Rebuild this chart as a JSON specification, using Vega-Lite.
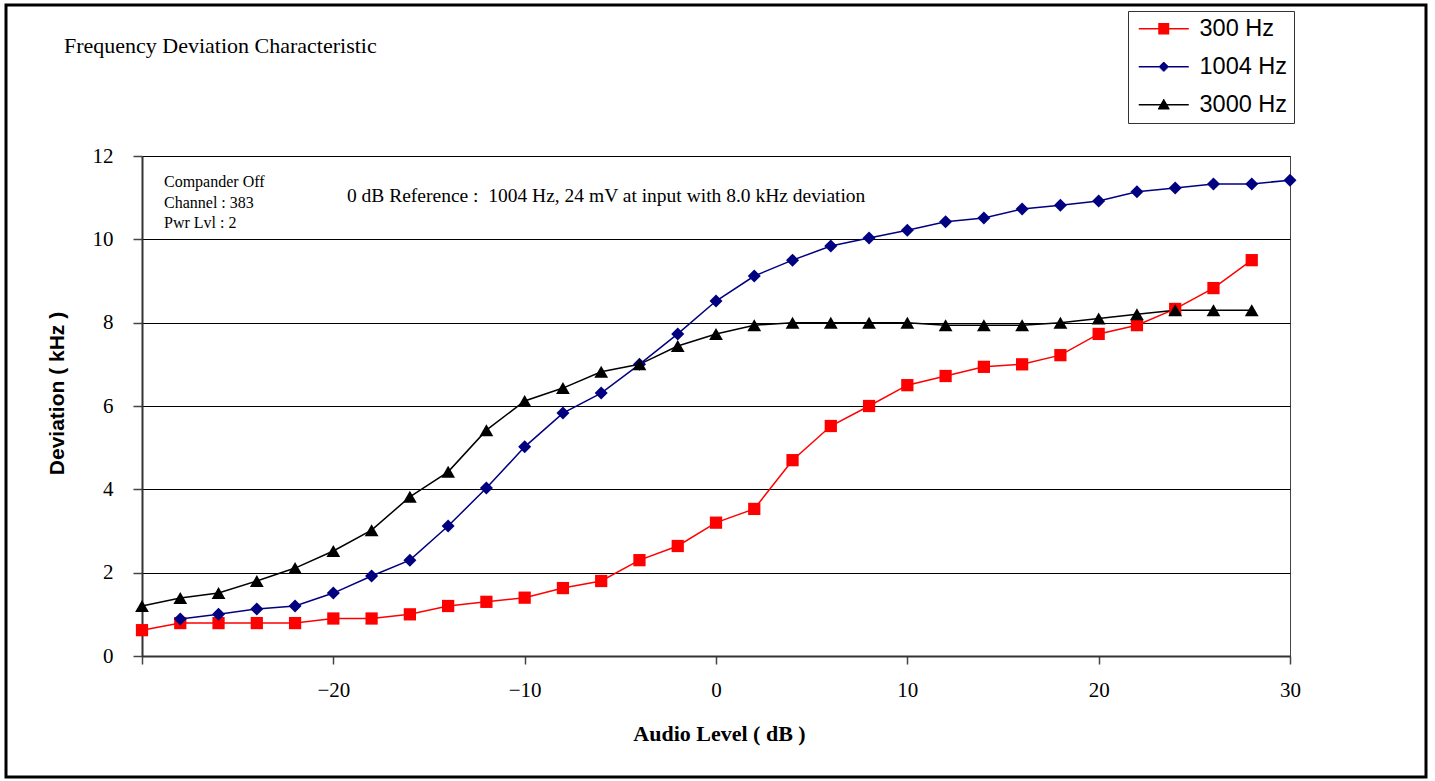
{
  "$schema": "https://vega.github.io/schema/vega-lite/v6.json",
  "width": 1148,
  "height": 500,
  "autosize": {"type": "none"},
  "padding": {"left": 142, "top": 156, "right": 145, "bottom": 125},
  "background": "white",
  "config": {
    "view": {"stroke": "#444", "strokeWidth": 1},
    "legend": {
      "orient": "none",
      "legendX": 986,
      "legendY": -145,
      "padding": 6,
      "fillColor": "white",
      "strokeColor": "#333",
      "cornerRadius": 0,
      "labelFont": "Liberation Sans",
      "labelFontSize": 23.5,
      "labelColor": "#000",
      "labelLimit": 300,
      "symbolSize": 400,
      "symbolOffset": 18,
      "labelOffset": 24,
      "rowPadding": 13,
      "symbolStrokeWidth": 1.5,
      "symbolOpacity": 1
    }
  },
  "data": {
    "values": [
      {"series": "300 Hz", "level": -30, "dev": 0.62},
      {"series": "300 Hz", "level": -28, "dev": 0.79},
      {"series": "300 Hz", "level": -26, "dev": 0.79},
      {"series": "300 Hz", "level": -24, "dev": 0.79},
      {"series": "300 Hz", "level": -22, "dev": 0.79},
      {"series": "300 Hz", "level": -20, "dev": 0.9},
      {"series": "300 Hz", "level": -18, "dev": 0.9},
      {"series": "300 Hz", "level": -16, "dev": 1.0},
      {"series": "300 Hz", "level": -14, "dev": 1.2},
      {"series": "300 Hz", "level": -12, "dev": 1.3},
      {"series": "300 Hz", "level": -10, "dev": 1.4},
      {"series": "300 Hz", "level": -8, "dev": 1.63},
      {"series": "300 Hz", "level": -6, "dev": 1.8},
      {"series": "300 Hz", "level": -4, "dev": 2.3},
      {"series": "300 Hz", "level": -2, "dev": 2.64},
      {"series": "300 Hz", "level": 0, "dev": 3.2},
      {"series": "300 Hz", "level": 2, "dev": 3.53},
      {"series": "300 Hz", "level": 4, "dev": 4.7},
      {"series": "300 Hz", "level": 6, "dev": 5.52},
      {"series": "300 Hz", "level": 8, "dev": 6.0},
      {"series": "300 Hz", "level": 10, "dev": 6.5},
      {"series": "300 Hz", "level": 12, "dev": 6.72},
      {"series": "300 Hz", "level": 14, "dev": 6.94},
      {"series": "300 Hz", "level": 16, "dev": 7.0},
      {"series": "300 Hz", "level": 18, "dev": 7.22},
      {"series": "300 Hz", "level": 20, "dev": 7.73},
      {"series": "300 Hz", "level": 22, "dev": 7.94},
      {"series": "300 Hz", "level": 24, "dev": 8.33},
      {"series": "300 Hz", "level": 26, "dev": 8.83},
      {"series": "300 Hz", "level": 28, "dev": 9.5},
      {"series": "1004 Hz", "level": -28, "dev": 0.89},
      {"series": "1004 Hz", "level": -26, "dev": 1.0},
      {"series": "1004 Hz", "level": -24, "dev": 1.13},
      {"series": "1004 Hz", "level": -22, "dev": 1.2},
      {"series": "1004 Hz", "level": -20, "dev": 1.51},
      {"series": "1004 Hz", "level": -18, "dev": 1.92},
      {"series": "1004 Hz", "level": -16, "dev": 2.3},
      {"series": "1004 Hz", "level": -14, "dev": 3.12},
      {"series": "1004 Hz", "level": -12, "dev": 4.03},
      {"series": "1004 Hz", "level": -10, "dev": 5.02},
      {"series": "1004 Hz", "level": -8, "dev": 5.83},
      {"series": "1004 Hz", "level": -6, "dev": 6.31},
      {"series": "1004 Hz", "level": -4, "dev": 7.0},
      {"series": "1004 Hz", "level": -2, "dev": 7.73},
      {"series": "1004 Hz", "level": 0, "dev": 8.52},
      {"series": "1004 Hz", "level": 2, "dev": 9.12},
      {"series": "1004 Hz", "level": 4, "dev": 9.5},
      {"series": "1004 Hz", "level": 6, "dev": 9.84},
      {"series": "1004 Hz", "level": 8, "dev": 10.03},
      {"series": "1004 Hz", "level": 10, "dev": 10.22},
      {"series": "1004 Hz", "level": 12, "dev": 10.42},
      {"series": "1004 Hz", "level": 14, "dev": 10.51},
      {"series": "1004 Hz", "level": 16, "dev": 10.73},
      {"series": "1004 Hz", "level": 18, "dev": 10.82},
      {"series": "1004 Hz", "level": 20, "dev": 10.92},
      {"series": "1004 Hz", "level": 22, "dev": 11.14},
      {"series": "1004 Hz", "level": 24, "dev": 11.23},
      {"series": "1004 Hz", "level": 26, "dev": 11.33},
      {"series": "1004 Hz", "level": 28, "dev": 11.33},
      {"series": "1004 Hz", "level": 30, "dev": 11.42},
      {"series": "3000 Hz", "level": -30, "dev": 1.2},
      {"series": "3000 Hz", "level": -28, "dev": 1.39},
      {"series": "3000 Hz", "level": -26, "dev": 1.51},
      {"series": "3000 Hz", "level": -24, "dev": 1.8},
      {"series": "3000 Hz", "level": -22, "dev": 2.11},
      {"series": "3000 Hz", "level": -20, "dev": 2.52},
      {"series": "3000 Hz", "level": -18, "dev": 3.02},
      {"series": "3000 Hz", "level": -16, "dev": 3.82},
      {"series": "3000 Hz", "level": -14, "dev": 4.42},
      {"series": "3000 Hz", "level": -12, "dev": 5.42},
      {"series": "3000 Hz", "level": -10, "dev": 6.12},
      {"series": "3000 Hz", "level": -8, "dev": 6.43},
      {"series": "3000 Hz", "level": -6, "dev": 6.82},
      {"series": "3000 Hz", "level": -4, "dev": 7.0},
      {"series": "3000 Hz", "level": -2, "dev": 7.44},
      {"series": "3000 Hz", "level": 0, "dev": 7.73},
      {"series": "3000 Hz", "level": 2, "dev": 7.94},
      {"series": "3000 Hz", "level": 4, "dev": 8.0},
      {"series": "3000 Hz", "level": 6, "dev": 8.0},
      {"series": "3000 Hz", "level": 8, "dev": 8.0},
      {"series": "3000 Hz", "level": 10, "dev": 8.0},
      {"series": "3000 Hz", "level": 12, "dev": 7.94},
      {"series": "3000 Hz", "level": 14, "dev": 7.94},
      {"series": "3000 Hz", "level": 16, "dev": 7.94},
      {"series": "3000 Hz", "level": 18, "dev": 8.0},
      {"series": "3000 Hz", "level": 20, "dev": 8.1},
      {"series": "3000 Hz", "level": 22, "dev": 8.2},
      {"series": "3000 Hz", "level": 24, "dev": 8.3},
      {"series": "3000 Hz", "level": 26, "dev": 8.3},
      {"series": "3000 Hz", "level": 28, "dev": 8.3}
    ]
  },
  "layer": [
    {
      "mark": {"type": "line", "strokeWidth": 1.5},
      "encoding": {
        "x": {
          "field": "level",
          "type": "quantitative",
          "scale": {"domain": [-30, 30], "nice": false, "zero": false},
          "axis": {
            "title": "Audio Level ( dB )",
            "values": [-30, -20, -10, 0, 10, 20, 30],
            "labelExpr": "datum.value === -30 ? '' : datum.label",
            "grid": false,
            "ticks": true,
            "tickSize": 8,
            "tickColor": "#444",
            "tickWidth": 1.5,
            "domainColor": "#333",
            "domainWidth": 2,
            "labelFont": "Liberation Serif",
            "labelFontSize": 21,
            "labelColor": "#000",
            "labelPadding": 15,
            "labelFlush": false,
            "labelOverlap": false,
            "titleFont": "Liberation Serif",
            "titleFontSize": 22,
            "titleFontWeight": "bold",
            "titleColor": "#000",
            "titleX": 577,
            "titleY": 77,
            "titleAlign": "center",
            "titleBaseline": "middle"
          }
        },
        "y": {
          "field": "dev",
          "type": "quantitative",
          "scale": {"domain": [0, 12], "nice": false},
          "axis": {
            "title": "Deviation ( kHz )",
            "values": [0, 2, 4, 6, 8, 10, 12],
            "grid": true,
            "gridColor": "#000",
            "gridWidth": 1,
            "tickSize": 9,
            "tickColor": "#444",
            "tickWidth": 1.5,
            "domainColor": "#333",
            "domainWidth": 2,
            "labelFont": "Liberation Serif",
            "labelFontSize": 21,
            "labelColor": "#000",
            "labelPadding": 20,
            "titleFont": "Liberation Sans",
            "titleFontSize": 21,
            "titleFontWeight": "bold",
            "titleColor": "#000",
            "titleX": -85,
            "titleY": 237,
            "titleAngle": -90,
            "titleAlign": "center",
            "titleBaseline": "middle"
          }
        },
        "color": {
          "field": "series",
          "type": "nominal",
          "scale": {"domain": ["300 Hz", "1004 Hz", "3000 Hz"], "range": ["#ff0000", "#000080", "#000000"]},
          "legend": {"title": null, "labelExpr": "datum.label + '\u00a0\u00a0\u00a0'"}
        }
      }
    },
    {
      "mark": {"type": "point", "filled": false, "opacity": 0, "strokeWidth": 1.5},
      "encoding": {
        "x": {"field": "level", "type": "quantitative"},
        "y": {"field": "dev", "type": "quantitative"},
        "color": {"field": "series", "type": "nominal", "legend": {"title": null, "labelExpr": "datum.label + '\u00a0\u00a0\u00a0'"}},
        "shape": {
          "field": "series",
          "type": "nominal",
          "scale": {
            "domain": ["300 Hz", "1004 Hz", "3000 Hz"],
            "range": [
              "M-2.5,0H2.5M-0.55,-0.5H0.55M-0.55,-0.4H0.55M-0.55,-0.3H0.55M-0.55,-0.2H0.55M-0.55,-0.1H0.55M-0.55,0.1H0.55M-0.55,0.2H0.55M-0.55,0.3H0.55M-0.55,0.4H0.55M-0.55,0.5H0.55",
              "M-2.5,0H2.5M-0.1,-0.4H0.1M-0.2,-0.3H0.2M-0.3,-0.2H0.3M-0.4,-0.1H0.4M-0.4,0.1H0.4M-0.3,0.2H0.3M-0.2,0.3H0.2M-0.1,0.4H0.1",
              "M-2.5,0H2.5M-0.06,-0.5H0.06M-0.11,-0.4H0.11M-0.17,-0.3H0.17M-0.23,-0.2H0.23M-0.29,-0.1H0.29M-0.4,0.1H0.4M-0.46,0.2H0.46M-0.51,0.3H0.51M-0.57,0.4H0.57"
            ]
          },
          "legend": {"title": null, "labelExpr": "datum.label + '\u00a0\u00a0\u00a0'"}
        }
      }
    },
    {
      "transform": [{"filter": "datum.series === '300 Hz'"}],
      "mark": {"type": "point", "shape": "square", "filled": true, "opacity": 1, "size": 150, "color": "#ff0000"},
      "encoding": {
        "x": {"field": "level", "type": "quantitative"},
        "y": {"field": "dev", "type": "quantitative"}
      }
    },
    {
      "transform": [{"filter": "datum.series === '1004 Hz'"}],
      "mark": {"type": "point", "shape": "diamond", "filled": true, "opacity": 1, "size": 170, "color": "#000080"},
      "encoding": {
        "x": {"field": "level", "type": "quantitative"},
        "y": {"field": "dev", "type": "quantitative"}
      }
    },
    {
      "transform": [{"filter": "datum.series === '3000 Hz'"}],
      "mark": {"type": "point", "shape": "triangle-up", "filled": true, "opacity": 1, "size": 190, "color": "#000000"},
      "encoding": {
        "x": {"field": "level", "type": "quantitative"},
        "y": {"field": "dev", "type": "quantitative"}
      }
    },
    {
      "data": {"values": [{}]},
      "mark": {"type": "text", "text": "Frequency Deviation Characteristic", "font": "Liberation Serif", "fontSize": 22, "align": "left", "baseline": "alphabetic", "color": "#000"},
      "encoding": {"x": {"datum": -34.08}, "y": {"datum": 14.472}}
    },
    {
      "data": {"values": [{}]},
      "mark": {"type": "text", "text": "0 dB Reference :\u00a0 1004 Hz, 24 mV at input with 8.0 kHz deviation", "font": "Liberation Serif", "fontSize": 19.5, "align": "left", "baseline": "alphabetic", "color": "#000"},
      "encoding": {"x": {"datum": -19.29}, "y": {"datum": 10.896}}
    },
    {
      "data": {"values": [{}]},
      "mark": {"type": "text", "text": ["Compander Off", "Channel : 383", "Pwr Lvl : 2"], "lineHeight": 20.5, "font": "Liberation Serif", "fontSize": 16, "align": "left", "baseline": "alphabetic", "color": "#000"},
      "encoding": {"x": {"datum": -28.85}, "y": {"datum": 11.256}}
    },
    {
      "data": {"values": [{}]},
      "mark": {"type": "rect", "fill": null, "stroke": "#000", "strokeWidth": 3},
      "encoding": {"x": {"datum": -37.108}, "x2": {"datum": 37.108}, "y": {"datum": 15.624}, "y2": {"datum": -2.904}}
    }
  ]
}
